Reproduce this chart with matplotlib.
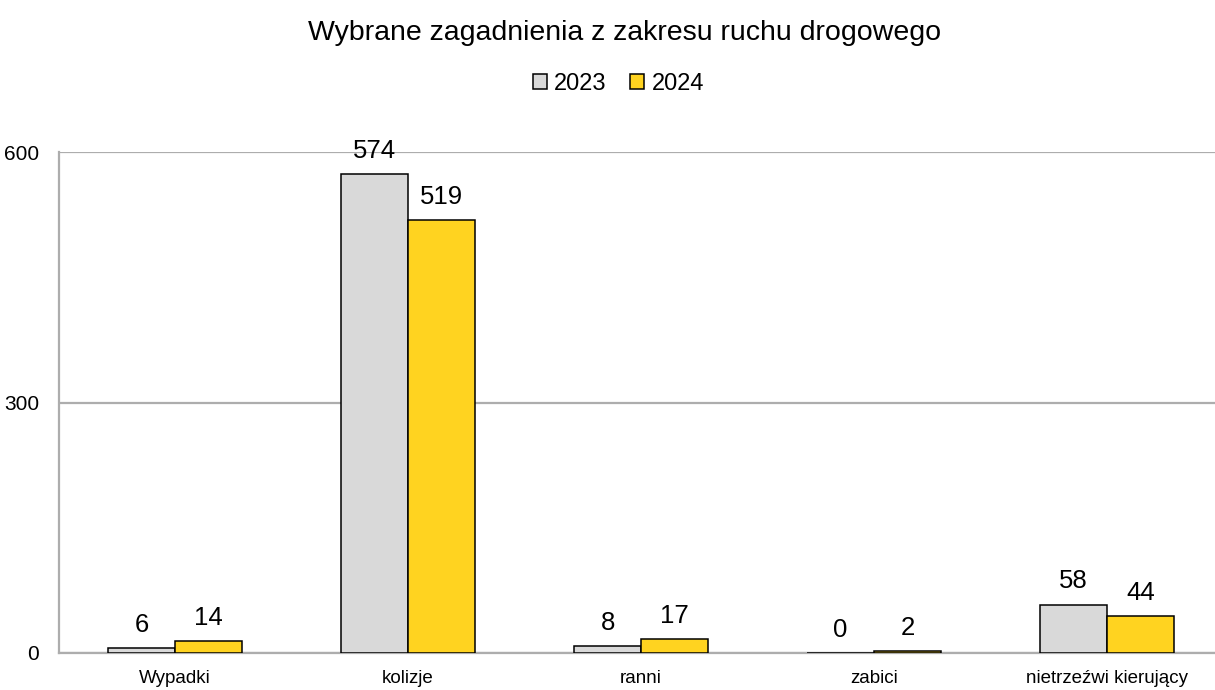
import matplotlib
matplotlib.use("Agg")
import matplotlib.pyplot as plt
import numpy as np
from matplotlib.patches import Patch

categories = ["Wypadki", "kolizje", "ranni", "zabici", "nietrzeźwi kierujący"]
series_names = ["2023", "2024"]
values_2023 = [6, 574, 8, 0, 58]
values_2024 = [14, 519, 17, 2, 44]
y_ticks = [0, 300, 600]
title = "Wybrane zagadnienia z zakresu ruchu drogowego"

colors = ["#D9D9D9", "#FFD320"]
grid_color = "#ADADAD"

plt.rcParams['font.family'] = ['Liberation Sans Narrow', 'Liberation Sans', 'DejaVu Sans']

fig = plt.figure(figsize=(12.15, 6.9), dpi=100)
ax = fig.add_axes([58.5 / 1215, 37 / 690, 1165 / 1215, 501 / 690])

x = np.arange(len(categories))
w = 0.287
b1 = ax.bar(x - w / 2, values_2023, w, color=colors[0], edgecolor="black", linewidth=1.1, zorder=3)
b2 = ax.bar(x + w / 2, values_2024, w, color=colors[1], edgecolor="black", linewidth=1.1, zorder=3)

for bars, vals in ((b1, values_2023), (b2, values_2024)):
    for rect, v in zip(bars, vals):
        ax.annotate(str(v), (rect.get_x() + rect.get_width() / 2, rect.get_height()),
                    xytext=(0, 8), textcoords="offset points", ha="center", va="bottom",
                    fontsize=18.5, annotation_clip=False, zorder=4)

ax.set_xlim(-0.5, len(categories) - 0.5)
ax.set_ylim(0, 600)
ax.set_yticks(y_ticks)
ax.set_yticklabels([str(t) for t in y_ticks], fontsize=15)
ax.set_xticks(x)
ax.set_xticklabels(categories, fontsize=13.5)
ax.tick_params(axis="both", length=0)
ax.tick_params(axis="y", pad=14)
ax.tick_params(axis="x", pad=12)

ax.yaxis.grid(True, color=grid_color, linewidth=1.6, zorder=0)
for s in ["top", "right"]:
    ax.spines[s].set_visible(False)
for s in ["left", "bottom"]:
    ax.spines[s].set_color(grid_color)
    ax.spines[s].set_linewidth(1.6)

fig.text(0.514, 1 - 33 / 690, title, ha="center", va="center", fontsize=20.5)

handles = [Patch(facecolor=colors[0], edgecolor="black", linewidth=1.1),
           Patch(facecolor=colors[1], edgecolor="black", linewidth=1.1)]
fig.legend(handles, series_names, loc="center", bbox_to_anchor=(0.509, 1 - 84 / 690),
           ncol=2, frameon=False, fontsize=17, handlelength=0.6, handleheight=0.6,
           handletextpad=0.3, columnspacing=1.0)

fig.savefig("out.png", dpi=100)
